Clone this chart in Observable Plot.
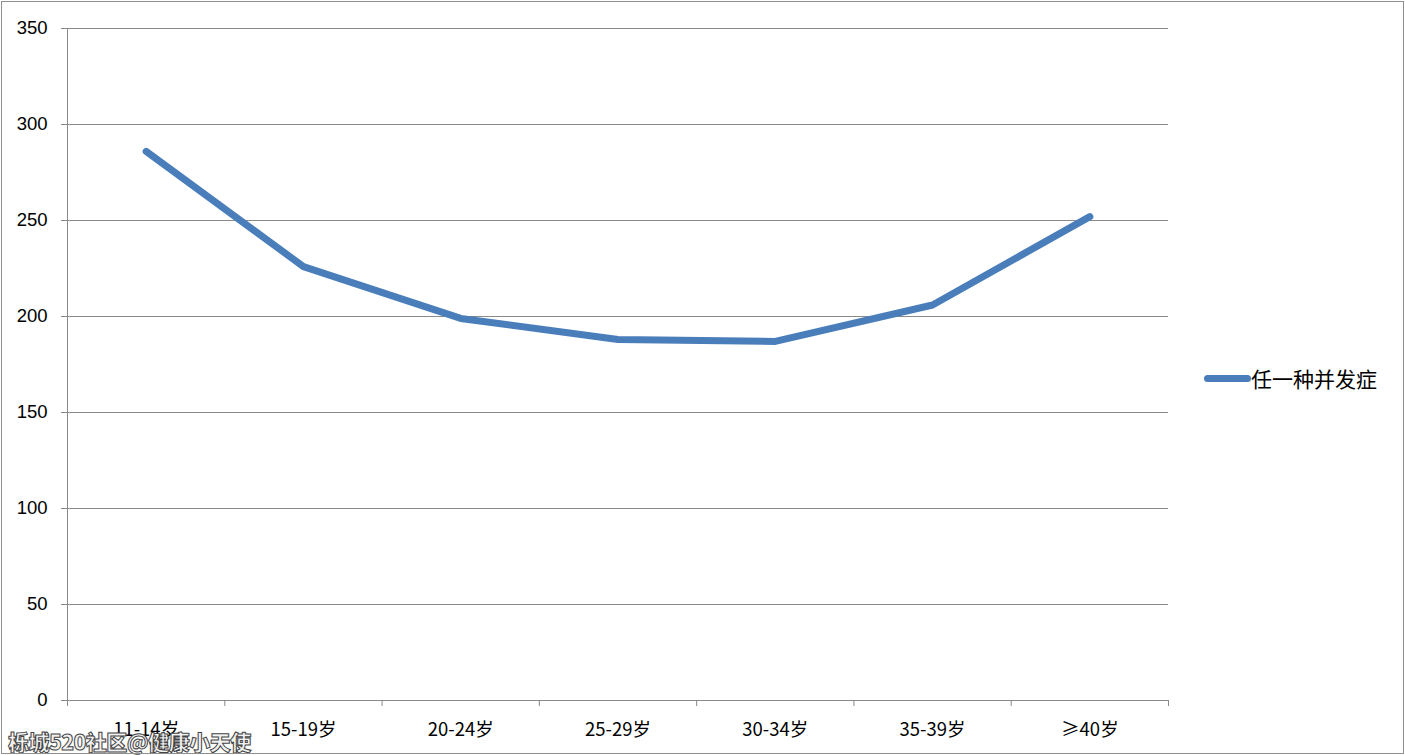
<!DOCTYPE html>
<html>
<head>
<meta charset="utf-8">
<script src="https://cdn.jsdelivr.net/npm/d3@7"></script>
<script src="https://cdn.jsdelivr.net/npm/@observablehq/plot@0.6"></script>
<style>
  html, body { margin: 0; padding: 0; background: #fff; }
  #wrap { position: relative; width: 1405px; height: 755px; overflow: hidden; }
  #frame { position: absolute; left: 1px; top: 1px; width: 1401px; height: 751px; border: 1px solid #8f8f8f; pointer-events: none; }
  #chart { position: absolute; left: 0; top: 0; }
  #legend { position: absolute; left: 1204px; top: 363px; display: flex; align-items: center; font-family: "Noto Sans CJK SC", sans-serif; font-size: 21px; color: #000; }
  #legend .swatch { width: 47px; height: 7px; border-radius: 4px; background: #4a7ebb; }
  #watermark { position: absolute; left: 8px; top: 726px; font-family: "Noto Sans CJK SC", sans-serif; font-weight: 900; font-size: 21px; color: #f2f2f2; -webkit-text-stroke: 1px #444; letter-spacing: -0.5px; }
</style>
</head>
<body>
<div id="wrap">
  <div id="chart"></div>
  <div id="legend"><div class="swatch"></div><span>任一种并发症</span></div>
  <div id="watermark">栎城520社区@健康小天使</div>
  <div id="frame"></div>
</div>
<script>
const categories = ["11-14岁", "15-19岁", "20-24岁", "25-29岁", "30-34岁", "35-39岁", "≥40岁"];
const values = [286, 226, 199, 188, 187, 206, 252];
const seriesName = "任一种并发症";
const yTicks = [0, 50, 100, 150, 200, 250, 300, 350];

const data = categories.map((c, i) => ({category: c, idx: i + 0.5, value: values[i]}));
const boundaries = d3.range(categories.length + 1);
const centers = categories.map((c, i) => i + 0.5);

const font = '"Liberation Sans", "Noto Sans CJK SC", sans-serif';

const chart = Plot.plot({
  width: 1405,
  height: 755,
  marginLeft: 67,
  marginRight: 237,
  marginTop: 28,
  marginBottom: 55,
  style: {fontFamily: font, fontSize: "18px", color: "#000", background: "transparent"},
  x: {type: "linear", domain: [0, categories.length]},
  y: {domain: [0, 350]},
  marks: [
    Plot.gridY(yTicks, {stroke: "#8a8a8a", strokeOpacity: 1, strokeWidth: 1}),
    Plot.ruleX([0], {stroke: "#8a8a8a"}),
    Plot.ruleY([0], {stroke: "#8a8a8a"}),
    Plot.axisY(yTicks, {tickSize: 6, tickPadding: 14, stroke: "#8a8a8a", fill: "#000", label: null, fontSize: 18.5}),
    Plot.axisX(boundaries, {tickSize: 6, tickFormat: () => "", stroke: "#8a8a8a", label: null}),
    Plot.axisX(centers, {tickSize: 0, tickPadding: 22, tickFormat: (d) => categories[Math.floor(d)], label: null, fill: "#000", fontSize: 18.5, fontFamily: '"Noto Sans CJK SC", sans-serif'}),
    Plot.line(data, {x: "idx", y: "value", stroke: "#4a7ebb", strokeWidth: 7, strokeLinecap: "round", strokeLinejoin: "round"})
  ]
});
document.getElementById("chart").appendChild(chart);
</script>
</body>
</html>
